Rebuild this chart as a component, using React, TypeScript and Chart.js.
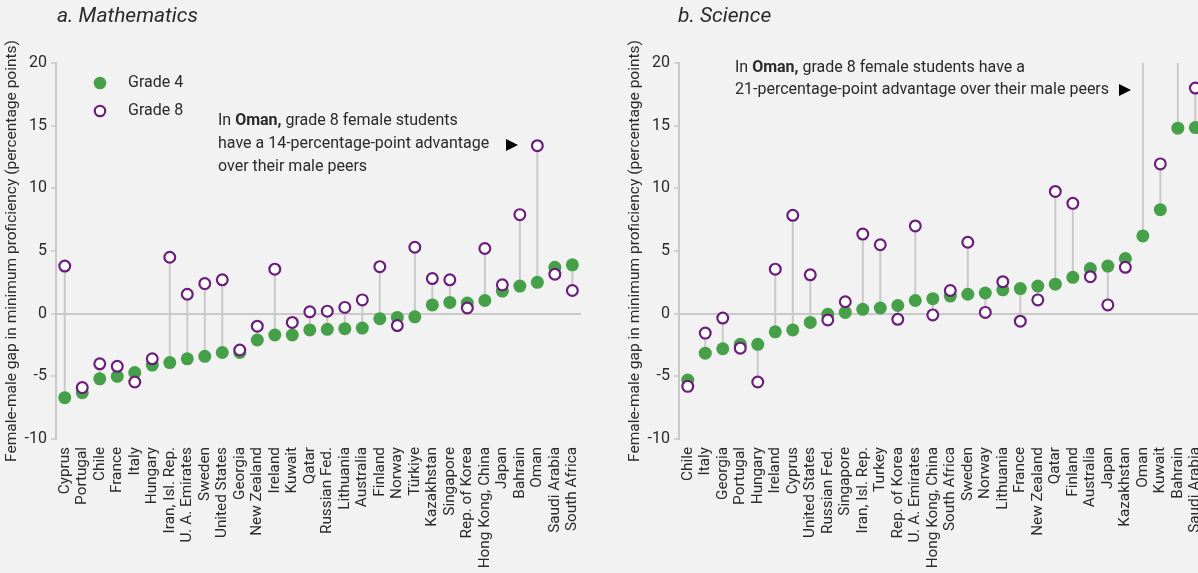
import React, { useEffect, useRef } from "react";
import { Chart, registerables } from "chart.js";

Chart.register(...registerables);

// ---------- data ----------
const mathCountries = [
  "Cyprus", "Portugal", "Chile", "France", "Italy", "Hungary", "Iran, Isl. Rep.",
  "U. A. Emirates", "Sweden", "United States", "Georgia", "New Zealand", "Ireland",
  "Kuwait", "Qatar", "Russian Fed.", "Lithuania", "Australia", "Finland", "Norway",
  "Türkiye", "Kazakhstan", "Singapore", "Rep. of Korea", "Hong Kong, China", "Japan",
  "Bahrain", "Oman", "Saudi Arabia", "South Africa",
];
const mathGrade4 = [
  -6.7, -6.3, -5.2, -5.0, -4.7, -4.1, -3.9, -3.6, -3.4, -3.1, -3.1, -2.1, -1.7, -1.7,
  -1.3, -1.25, -1.2, -1.15, -0.4, -0.3, -0.25, 0.7, 0.9, 0.85, 1.05, 1.8, 2.2, 2.5, 3.7, 3.9,
];
const mathGrade8 = [
  3.8, -5.9, -4.0, -4.2, -5.45, -3.6, 4.5, 1.55, 2.4, 2.7, -2.9, -1.0, 3.55, -0.7, 0.15,
  0.2, 0.5, 1.1, 3.75, -0.95, 5.3, 2.8, 2.7, 0.45, 5.2, 2.3, 7.9, 13.4, 3.15, 1.85,
];

const sciCountries = [
  "Chile", "Italy", "Georgia", "Portugal", "Hungary", "Ireland", "Cyprus", "United States",
  "Russian Fed.", "Singapore", "Iran, Isl. Rep.", "Turkey", "Rep. of Korea", "U. A. Emirates",
  "Hong Kong, China", "South Africa", "Sweden", "Norway", "Lithuania", "France", "New Zealand",
  "Qatar", "Finland", "Australia", "Japan", "Kazakhstan", "Oman", "Kuwait", "Bahrain", "Saudi Arabia",
];
const sciGrade4 = [
  -5.3, -3.15, -2.8, -2.45, -2.45, -1.45, -1.3, -0.7, -0.05, 0.1, 0.35, 0.45, 0.65, 1.05,
  1.2, 1.4, 1.55, 1.65, 1.9, 2.0, 2.2, 2.35, 2.9, 3.6, 3.8, 4.4, 6.2, 8.3, 14.8, 14.85,
];
const sciGrade8 = [
  -5.8, -1.55, -0.35, -2.75, -5.45, 3.55, 7.85, 3.1, -0.5, 0.95, 6.35, 5.5, -0.45, 7.0,
  -0.1, 1.85, 5.7, 0.1, 2.55, -0.6, 1.1, 9.75, 8.8, 2.95, 0.7, 3.7, 21, 11.95, 22, 18.0,
];

const yTickValues = [-10, -5, 0, 5, 10, 15, 20];
const yTitle = "Female-male gap in minimum proficiency (percentage points)";
const seriesNames = ["Grade 4", "Grade 8"];

// ---------- style ----------
const FONT = "Roboto, 'Open Sans', sans-serif";
const GREEN = "#45a048";
const PURPLE = "#6b1e7c";
const GRID = "#c9c9c9";
const TEXT = "#2a2a2a";
const BG = "#f2f2f2";

type Seg = { t: string; b?: boolean };

function drawRich(ctx: CanvasRenderingContext2D, segs: Seg[], x: number, y: number, size: number) {
  let cx = x;
  for (const s of segs) {
    ctx.font = `${s.b ? "bold " : ""}${size}px ${FONT}`;
    ctx.fillText(s.t, cx, y);
    cx += ctx.measureText(s.t).width;
  }
}

function drawArrow(ctx: CanvasRenderingContext2D, x: number, y: number) {
  ctx.beginPath();
  ctx.moveTo(x, y - 6);
  ctx.lineTo(x + 12, y);
  ctx.lineTo(x, y + 6);
  ctx.closePath();
  ctx.fill();
}

const stemsPlugin = {
  id: "stems",
  beforeDatasetsDraw(chart: any) {
    const { ctx, chartArea, scales } = chart;
    const g8 = chart.data.datasets[0].data as number[];
    const g4 = chart.data.datasets[1].data as number[];
    ctx.save();
    ctx.beginPath();
    ctx.rect(chartArea.left, chartArea.top, chartArea.right - chartArea.left, chartArea.bottom - chartArea.top);
    ctx.clip();
    ctx.strokeStyle = GRID;
    ctx.lineWidth = 2;
    for (let i = 0; i < g4.length; i++) {
      const x = scales.x.getPixelForValue(i);
      ctx.beginPath();
      ctx.moveTo(x, scales.y.getPixelForValue(g4[i]));
      ctx.lineTo(x, scales.y.getPixelForValue(g8[i]));
      ctx.stroke();
    }
    ctx.restore();
  },
};

function mathDecor(ctx: CanvasRenderingContext2D) {
  ctx.save();
  ctx.fillStyle = TEXT;
  ctx.textBaseline = "middle";
  ctx.textAlign = "left";
  ctx.font = `italic 21px ${FONT}`;
  ctx.fillText("a. Mathematics", 57, 17);
  // legend
  ctx.fillStyle = GREEN;
  ctx.beginPath();
  ctx.arc(100, 83, 6.3, 0, Math.PI * 2);
  ctx.fill();
  ctx.fillStyle = "#ffffff";
  ctx.strokeStyle = PURPLE;
  ctx.lineWidth = 2.2;
  ctx.beginPath();
  ctx.arc(100, 111, 5.2, 0, Math.PI * 2);
  ctx.fill();
  ctx.stroke();
  ctx.fillStyle = TEXT;
  ctx.font = `16px ${FONT}`;
  ctx.fillText(seriesNames[0], 128, 83);
  ctx.fillText(seriesNames[1], 128, 111);
  // annotation
  drawRich(ctx, [{ t: "In " }, { t: "Oman,", b: true }, { t: " grade 8 female students" }], 218, 121, 16);
  drawRich(ctx, [{ t: "have a 14-percentage-point advantage" }], 218, 144, 16);
  drawRich(ctx, [{ t: "over their male peers" }], 218, 167, 16);
  ctx.fillStyle = "#000";
  drawArrow(ctx, 506, 145);
  ctx.restore();
}

function sciDecor(ctx: CanvasRenderingContext2D) {
  ctx.save();
  ctx.fillStyle = TEXT;
  ctx.textBaseline = "middle";
  ctx.textAlign = "left";
  ctx.font = `italic 21px ${FONT}`;
  ctx.fillText("b. Science", 55, 17);
  drawRich(ctx, [{ t: "In " }, { t: "Oman,", b: true }, { t: " grade 8 female students have a" }], 112, 68, 16);
  drawRich(ctx, [{ t: "21-percentage-point advantage over their male peers" }], 112, 90, 16);
  ctx.fillStyle = "#000";
  drawArrow(ctx, 496, 90);
  ctx.restore();
}

function Panel(props: {
  labels: string[];
  g4: number[];
  g8: number[];
  left: number;
  decor: (ctx: CanvasRenderingContext2D) => void;
}) {
  const ref = useRef<HTMLCanvasElement>(null);
  useEffect(() => {
    const canvas = ref.current;
    if (!canvas) return;
    const decorPlugin = {
      id: "decor",
      afterDraw(chart: any) {
        props.decor(chart.ctx);
      },
    };
    const chart = new Chart(canvas, {
      type: "line",
      data: {
        labels: props.labels,
        datasets: [
          {
            label: seriesNames[1],
            data: props.g8,
            showLine: false,
            pointRadius: 5.4,
            pointHoverRadius: 5.4,
            pointBackgroundColor: "#ffffff",
            pointBorderColor: PURPLE,
            pointBorderWidth: 2.2,
            borderColor: PURPLE,
          },
          {
            label: seriesNames[0],
            data: props.g4,
            showLine: false,
            pointRadius: 6.5,
            pointHoverRadius: 6.5,
            pointBackgroundColor: GREEN,
            pointBorderWidth: 0,
            borderColor: GREEN,
          },
        ],
      },
      options: {
        animation: false,
        responsive: false,
        events: [],
        layout: { padding: { left: 0, right: 17, top: 63, bottom: 0 } },
        plugins: { legend: { display: false }, tooltip: { enabled: false }, title: { display: false } },
        scales: {
          x: {
            type: "category",
            offset: true,
            grid: { display: false, drawTicks: false },
            border: { display: false },
            ticks: {
              autoSkip: false,
              minRotation: 90,
              maxRotation: 90,
              color: TEXT,
              font: { family: FONT, size: 15.3 },
              padding: 8,
            },
            afterFit: (s: any) => {
              s.height = 134;
            },
          },
          y: {
            min: -10,
            max: 20,
            afterBuildTicks: (s: any) => {
              s.ticks = yTickValues.map((v) => ({ value: v }));
            },
            afterFit: (s: any) => {
              s.width = 56;
            },
            grid: {
              drawOnChartArea: true,
              color: (c: any) => (c.tick && c.tick.value === 0 ? GRID : "rgba(0,0,0,0)"),
              lineWidth: 2,
              tickLength: 5,
              tickColor: GRID,
              tickWidth: 1.5,
            },
            border: { display: true, color: GRID, width: 2 },
            ticks: { color: TEXT, font: { family: FONT, size: 16 }, padding: 4 },
            title: {
              display: true,
              text: yTitle,
              color: TEXT,
              font: { family: FONT, size: 15.5 },
              padding: { top: 3, bottom: 0 },
            },
          },
        },
      },
      plugins: [stemsPlugin, decorPlugin],
    } as any);
    return () => chart.destroy();
  }, []);
  return (
    <canvas
      ref={ref}
      width={599}
      height={573}
      style={{ position: "absolute", left: props.left, top: 0, width: 599, height: 573, display: "block" }}
    />
  );
}

export default function App() {
  return (
    <div
      style={{
        position: "fixed",
        left: 0,
        top: 0,
        width: 1198,
        height: 573,
        overflow: "hidden",
        background: BG,
      }}
    >
      <Panel labels={mathCountries} g4={mathGrade4} g8={mathGrade8} left={0} decor={mathDecor} />
      <Panel labels={sciCountries} g4={sciGrade4} g8={sciGrade8} left={623} decor={sciDecor} />
    </div>
  );
}
